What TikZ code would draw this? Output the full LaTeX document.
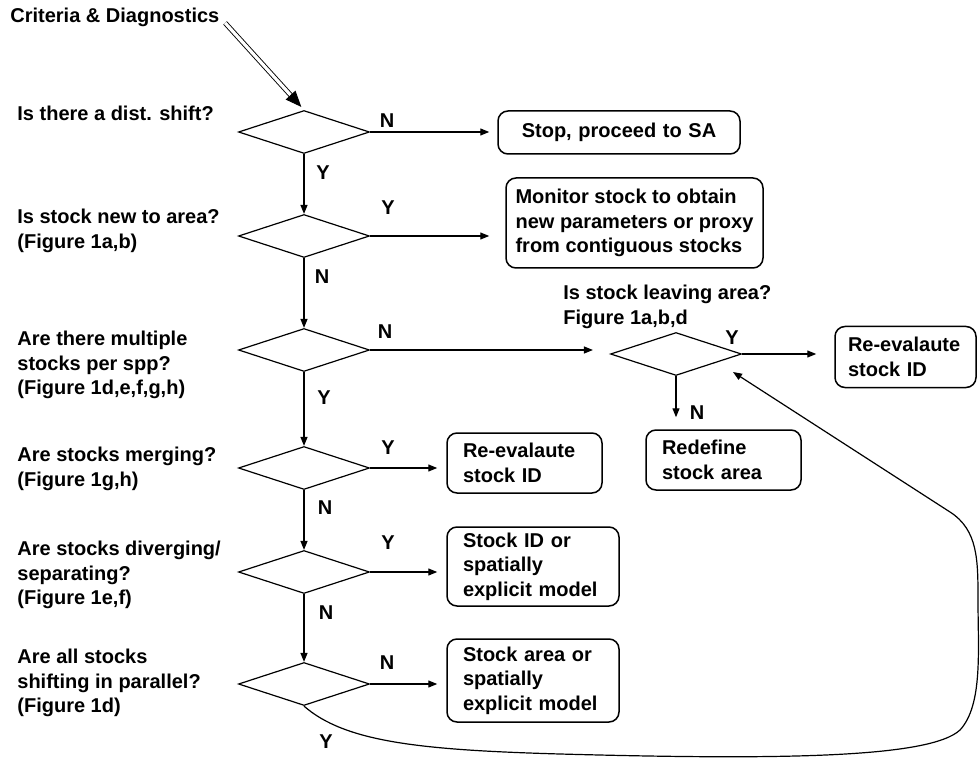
\documentclass[tikz,border=0pt]{standalone}
\usepackage{fontspec}
\setmainfont{Liberation Sans}
\usetikzlibrary{shapes.geometric,arrows.meta}
\hyphenpenalty=10000
\exhyphenpenalty=10000

\begin{document}
\begin{tikzpicture}[
  x=0.5pt, y=-0.5pt,
  txt/.style={font=\bfseries\fontsize{10}{12.2}\selectfont},
  question/.style={txt, anchor=west, align=left, inner sep=0pt},
  decision/.style={diamond, draw, line width=0.6pt, aspect=3, minimum width=65.5pt, minimum height=21.5pt, inner sep=0pt},
  outcome/.style={txt, draw, line width=0.75pt, rounded corners=5pt, align=left, inner xsep=8pt, inner ysep=2pt},
  answer/.style={txt, inner sep=0pt},
  arr/.style={line width=0.6pt, -{Triangle[length=4.5pt,width=3.5pt]}},
  feed/.style={double, double distance=1.6pt, line width=0.45pt, -{Triangle[length=8pt,width=6.5pt]}}
]
\useasboundingbox (0,0) rectangle (980,759);

% questions down the left side
\node[question] (crit) at (10,17) {Criteria \& Diagnostics};
\node[question] (q1) at (17,113) {Is there a dist. shift?};
\node[question] (q2) at (17,231) {Is stock new to area?\\(Figure 1a,b)};
\node[question] (q3) at (17,365) {Are there multiple\\stocks per spp?\\(Figure 1d,e,f,g,h)};
\node[question] (q4) at (17,469) {Are stocks merging?\\(Figure 1g,h)};
\node[question] (q5) at (17,575) {Are stocks diverging/\\separating?\\(Figure 1e,f)};
\node[question] (q6) at (17,683) {Are all stocks\\shifting in parallel?\\(Figure 1d)};
\node[question] (q7) at (563,307) {Is stock leaving area?\\Figure 1a,b,d};

% decisions
\node[decision] (d1) at (304,132) {};
\node[decision] (d2) at (304,236) {};
\node[decision] (d3) at (304,350) {};
\node[decision] (d4) at (304,468) {};
\node[decision] (d5) at (304,572) {};
\node[decision] (d6) at (304,684) {};
\node[decision] (dleave) at (676,354) {};

% outcomes
\node[outcome, align=center, text width=105pt, minimum height=21.5pt] (stop) at (619,132.5) {Stop, proceed to SA};
\node[outcome, inner xsep=2pt, minimum width=128.5pt, minimum height=45pt] (monitor) at (634.5,223) {Monitor stock to obtain\\new parameters or proxy\\from contiguous stocks};
\node[outcome, text width=61.5pt, minimum height=30pt] (reeval) at (524.5,463) {Re-evalaute\\stock ID};
\node[outcome, text width=70pt, minimum height=39.5pt] (stockid) at (533,566.5) {Stock ID or\\spatially\\explicit model};
\node[outcome, text width=70pt, minimum height=41.5pt] (stockarea) at (533,680.5) {Stock area or\\spatially\\explicit model};
\node[outcome, text width=57.5pt, inner xsep=6.5pt, minimum height=30.5pt] (reevalb) at (905.5,357) {Re-evalaute\\stock ID};
\node[outcome, text width=61.5pt, minimum height=30pt] (redefine) at (723.5,460) {Redefine\\stock area};

% connectors
\draw[feed, shorten <=4pt, shorten >=2pt] (crit.east) -- (d1.north);

\foreach \a/\b in {d1/d2,d2/d3,d3/d4,d4/d5,d5/d6}
  \draw[arr] (\a.south) -- (\b.north);

\draw[arr, shorten >=4pt] (d1.east) -- (d1.east -| stop.west);
\draw[arr, shorten >=8pt] (d2.east) -- (d2.east -| monitor.west);
\draw[arr, shorten >=8.5pt] (d3.east) -- (d3.east -| dleave.west);
\foreach \a/\b in {d4/reeval,d5/stockid,d6/stockarea}
  \draw[arr, shorten >=4.5pt] (\a.east) -- (\a.east -| \b.west);
\draw[arr, shorten >=9pt] (dleave.east) -- (dleave.east -| reevalb.west);
\draw[arr, shorten >=6pt] (dleave.south) -- (dleave.south |- redefine.north);

% loop back from the last question
\coordinate (backin) at (733,372);
\draw[arr] (d6.south) .. controls (345,742) and (420,750) .. (560,754)
  .. controls (780,760) and (930,758) .. (960,730)
  .. controls (983,705) and (978,650) .. (978,600)
  .. controls (978,560) and (978,530) .. (950,512) -- (backin);

% answers
\node[answer] (a1n) at (387,121) {N};
\node[answer] (a1y) at (323,173) {Y};
\node[answer] (a2y) at (388,208) {Y};
\node[answer] (a2n) at (322,277) {N};
\node[answer] (a3n) at (385,332) {N};
\node[answer] (a3y) at (324,398) {Y};
\node[answer] (a4y) at (388,448) {Y};
\node[answer] (a4n) at (325,508) {N};
\node[answer] (a5y) at (388,543) {Y};
\node[answer] (a5n) at (326,613) {N};
\node[answer] (a6n) at (387,663) {N};
\node[answer] (a6y) at (326,742) {Y};
\node[answer] (a7y) at (732,338) {Y};
\node[answer] (a7n) at (697,413) {N};

\end{tikzpicture}
\end{document}
